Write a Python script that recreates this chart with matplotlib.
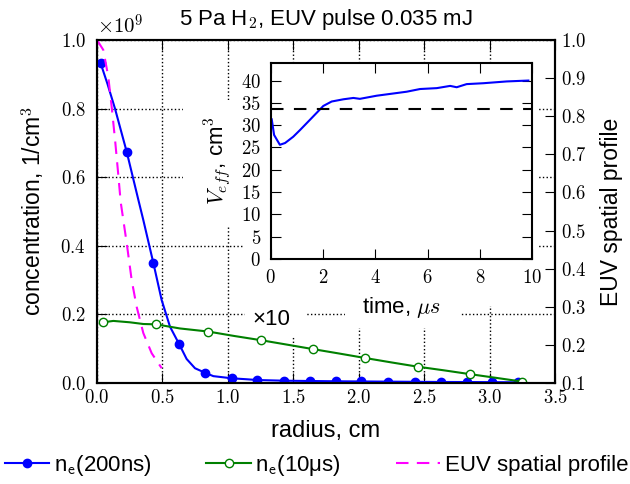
import matplotlib
matplotlib.use("Agg")
import matplotlib.pyplot as plt
from matplotlib.lines import Line2D
from matplotlib.patches import Rectangle
from matplotlib.ticker import FormatStrFormatter, MultipleLocator

plt.rcParams['font.family'] = ['Liberation Sans', 'DejaVu Sans']
plt.rcParams['mathtext.fontset'] = 'cm'

# electron density 200 ns after the pulse, units of 1e9 cm^-3
r_200 = [0.028, 0.08, 0.1375, 0.227, 0.316, 0.354, 0.43, 0.494, 0.558, 0.627,
         0.685, 0.749, 0.825, 0.889, 1.03, 1.14, 1.225, 1.43, 1.627, 1.83,
         2.02, 2.22, 2.43, 2.63, 2.83, 3.02, 3.22]
ne_200 = [0.932, 0.872, 0.80, 0.674, 0.534, 0.475, 0.351, 0.242, 0.164, 0.114,
          0.070, 0.043, 0.030, 0.020, 0.0137, 0.011, 0.0087, 0.0067, 0.0058, 0.005,
          0.0045, 0.004, 0.0035, 0.003, 0.0028, 0.0025, 0.002]
marks_200 = [0, 3, 6, 9, 12, 14, 16, 17, 18, 19, 20, 21, 22, 23, 24, 25, 26]

# electron density 10 us after the pulse (x10), units of 1e9 cm^-3
r_10 = [0.048, 0.125, 0.25, 0.354, 0.451, 0.634, 0.85, 1.05, 1.25, 1.45,
        1.648, 1.85, 2.047, 2.25, 2.45, 2.65, 2.847, 3.05, 3.25]
ne_10 = [0.177, 0.181, 0.177, 0.172, 0.171, 0.159, 0.150, 0.137, 0.125, 0.112,
         0.099, 0.086, 0.073, 0.060, 0.0476, 0.037, 0.026, 0.015, 0.004]
marks_10 = [0, 4, 6, 8, 10, 12, 14, 16, 18]

# EUV spatial profile (right axis)
r_euv = [0, 0.048, 0.086, 0.112, 0.138, 0.163, 0.181, 0.201, 0.227, 0.265,
         0.303, 0.354, 0.418, 0.494]
euv = [1.0, 0.974, 0.904, 0.825, 0.738, 0.645, 0.575, 0.528, 0.467, 0.370,
       0.300, 0.231, 0.178, 0.139]

# inset: effective volume vs time
t_us = [0.04, 0.13, 0.35, 0.55, 0.86, 1.12, 1.5, 2.01, 2.33, 2.78, 3.16, 3.41,
        4.05, 4.69, 5.2, 5.71, 6.35, 6.86, 7.11, 7.49, 8.13, 9.02, 9.85]
v_eff = [31.3, 27.8, 25.6, 26.0, 27.4, 28.9, 31.2, 34.3, 35.3, 35.8, 36.1, 35.9,
         36.6, 37.1, 37.5, 38.1, 38.3, 38.8, 38.5, 39.2, 39.4, 39.8, 40.0]
v_ref = 33.6

W, H = 630, 484


def box(x0, y0, x1, y1):
    # pixel box (top-left origin) -> figure fraction [l, b, w, h]
    return [x0 / W, 1 - y1 / H, (x1 - x0) / W, (y1 - y0) / H]


fig = plt.figure(figsize=(6.3, 4.84), dpi=100)
ax = fig.add_axes(box(97, 40, 555, 383))
ax2 = ax.twinx()

blue = '#0000ff'
green = '#008000'
magenta = '#ff00ff'

ax.plot(r_200, ne_200, color=blue, lw=1.5, marker='o', ms=6,
        markevery=marks_200, zorder=3)
ax.plot(r_10, ne_10, color=green, lw=1.5, marker='o', ms=6, mfc='white',
        mec=green, mew=1, markevery=marks_10, zorder=3)
ax2.plot(r_euv, euv, color=magenta, lw=1.5, dashes=(6, 4))

ax.set_xlim(0, 3.5)
ax.set_ylim(0, 1.0)
ax2.set_ylim(0.1, 1.0)
ax.xaxis.set_major_locator(MultipleLocator(0.5))
ax.yaxis.set_major_locator(MultipleLocator(0.2))
ax2.yaxis.set_major_locator(MultipleLocator(0.1))
for a in (ax.xaxis, ax.yaxis, ax2.yaxis):
    a.set_major_formatter(FormatStrFormatter('$%.1f$'))

ax.tick_params(axis='x', direction='in', top=True, length=7, labelsize=13.5, pad=4)
ax.tick_params(axis='y', direction='in', right=False, length=7, labelsize=13.5, pad=8)
ax2.tick_params(axis='y', direction='in', length=7, labelsize=13.5, pad=4)
for a in (ax, ax2):
    for s in a.spines.values():
        s.set_linewidth(1.5)

ax.grid(True, linestyle=':', color='k', linewidth=1)

ax.set_xlabel('radius, cm', fontsize=17, labelpad=10)
ax.set_ylabel('concentration, 1/cm$^3$', fontsize=16.5, labelpad=10)
ax2.set_ylabel('EUV spatial profile', fontsize=16.5, labelpad=10)
ax.set_title('5 Pa H$_2$, EUV pulse 0.035 mJ', fontsize=16, pad=11)
ax.text(0, 1.005, r'$\times10^{9}$', transform=ax.transAxes, fontsize=15,
        ha='left', va='bottom')
ax.text(1.33, 0.184, '×10', fontsize=16, ha='center', va='center', zorder=4)

# white areas behind the inset and its labels
for b in [(243, 62, 537, 306), (183, 100, 243, 226),
          (345, 295, 460, 328), (245, 300, 305, 336)]:
    l, bt, w, h = box(*b)
    ax.add_patch(Rectangle((l, bt), w, h, transform=fig.transFigure,
                           facecolor='white', edgecolor='none', zorder=1.8,
                           clip_on=False))

# inset
axi = fig.add_axes(box(270.7, 62.7, 532.3, 259))
axi.plot(t_us, v_eff, color=blue, lw=1.5)
axi.axhline(v_ref, color='k', lw=1.5, dashes=(6, 5))
axi.set_xlim(0, 10)
axi.set_ylim(0, 44)
axi.xaxis.set_major_locator(MultipleLocator(2))
axi.yaxis.set_major_locator(MultipleLocator(5))
axi.xaxis.set_major_formatter(FormatStrFormatter('$%d$'))
axi.yaxis.set_major_formatter(FormatStrFormatter('$%d$'))
axi.tick_params(direction='in', top=True, right=True, length=7, labelsize=13.5, pad=7)
for s in axi.spines.values():
    s.set_linewidth(1.5)
axi.set_xlabel(r'time, $\mu s$', fontsize=16, labelpad=6)
axi.set_ylabel(r'$V_{eff}$, cm$^3$', fontsize=16, labelpad=6)

handles = [
    Line2D([], [], color=blue, lw=1.5, marker='o', ms=6),
    Line2D([], [], color=green, lw=1.5, marker='o', ms=6, mfc='white', mec=green),
    Line2D([], [], color=magenta, lw=1.5, dashes=(6, 4)),
]
labels = [r'n$_\mathsf{e}$(200ns)', r'n$_\mathsf{e}$(10μs)', 'EUV spatial profile']
fig.legend(handles, labels, loc='lower left', bbox_to_anchor=(0.008, 0.012, 0.989, 0.05),
           mode='expand', ncol=3, frameon=False, fontsize=16, handlelength=2,
           handletextpad=0.2, borderaxespad=0, borderpad=0)

fig.savefig('out.png', dpi=100)
